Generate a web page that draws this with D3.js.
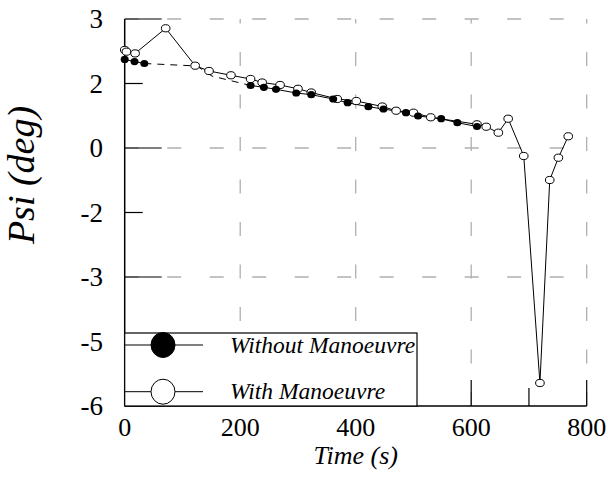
<!DOCTYPE html>
<html>
<head>
<meta charset="utf-8">
<script src="https://cdn.jsdelivr.net/npm/d3@7"></script>
<style>
  body { margin: 0; background: #fff; }
  text { font-family: "Liberation Serif", "Times New Roman", Times, serif; }
</style>
</head>
<body>
<script>
// values
const withoutTime = [0, 17, 34, 218, 241, 262, 297, 323, 361, 386, 422, 448, 487, 508, 548, 576, 610];
const withoutPsi  = [2.06, 2.01, 1.965, 1.453, 1.412, 1.365, 1.279, 1.24, 1.14, 1.053, 0.96, 0.907, 0.821, 0.744, 0.681, 0.588, 0.5];

// dashed part where the first run has no samples
const gapTime = [34, 125, 151, 218];
const gapPsi  = [1.965, 1.907, 1.674, 1.453];

const withTime = [0, 3, 18, 71, 122, 146, 184, 218, 238, 269, 300, 323, 368, 401, 446, 470, 500, 530, 610, 626, 647, 664, 691, 719, 736, 751, 768];
const withPsi  = [2.28, 2.24, 2.2, 2.784, 1.914, 1.791, 1.691, 1.605, 1.523, 1.465, 1.377, 1.291, 1.14, 1.093, 0.965, 0.867, 0.821, 0.714, 0.551, 0.495, 0.356, 0.681, -0.186, -5.465, -0.744, -0.226, 0.272];

const xMajor = [0, 200, 400, 600, 800];
const xMinor = [100, 300, 500, 700];
const yMajor = [3, 0, -3, -6];
const yTickVals = [3, 1.5, 0, -1.5, -3, -4.5, -6];
const yTickLabels = ["3", "2", "0", "-2", "-3", "-5", "-6"];
const legendNames = ["Without Manoeuvre", "With Manoeuvre"];

const W = 608, H = 490;
const x = d3.scaleLinear().domain([0, 800]).range([124.7, 586.7]);
const y = d3.scaleLinear().domain([-6, 3]).range([406, 19]);

const svg = d3.select("body").append("svg")
  .attr("width", W).attr("height", H);

const grid = "#b0b0b0";

// horizontal grid (major only), drawn left to right
svg.selectAll(".hgrid").data(yMajor.filter(v => v > -6)).enter()
  .append("line")
  .attr("x1", x(0)).attr("x2", x(800))
  .attr("y1", d => y(d)).attr("y2", d => y(d))
  .attr("stroke", grid).attr("stroke-width", 1.3)
  .attr("stroke-dasharray", "14,28.5");

// vertical grid, drawn bottom to top
svg.selectAll(".vgrid").data(xMajor.filter(v => v > 0)).enter()
  .append("line")
  .attr("x1", d => x(d)).attr("x2", d => x(d))
  .attr("y1", y(-6)).attr("y2", y(3))
  .attr("stroke", grid).attr("stroke-width", 1.3)
  .attr("stroke-dasharray", "14,28.5");

// axis lines
svg.append("line").attr("x1", x(0)).attr("x2", x(0)).attr("y1", y(-6)).attr("y2", y(3))
  .attr("stroke", "#000").attr("stroke-width", 1.5);
svg.append("line").attr("x1", x(0)).attr("x2", x(800)).attr("y1", y(-6)).attr("y2", y(-6))
  .attr("stroke", "#000").attr("stroke-width", 1.5);

// inward ticks
svg.selectAll(".ytk").data(yTickVals).enter().append("line")
  .attr("x1", x(0)).attr("x2", d => x(0) + (yMajor.includes(d) ? 37 : 18))
  .attr("y1", d => y(d)).attr("y2", d => y(d))
  .attr("stroke", "#000").attr("stroke-width", 1.2);
svg.selectAll(".xtk").data(xMajor.concat(xMinor)).enter().append("line")
  .attr("x1", d => x(d)).attr("x2", d => x(d))
  .attr("y1", y(-6)).attr("y2", d => y(-6) - (xMajor.includes(d) ? 26 : 18))
  .attr("stroke", "#000").attr("stroke-width", 1.2);

// tick labels
svg.selectAll(".xlab").data(xMajor).enter().append("text")
  .attr("x", d => x(d)).attr("y", 436)
  .attr("text-anchor", "middle").attr("font-size", 26)
  .text(d => d);
svg.selectAll(".ylab").data(yTickVals).enter().append("text")
  .attr("x", 103).attr("y", d => y(d)).attr("dy", "0.35em")
  .attr("text-anchor", "end").attr("font-size", 27)
  .text((d, i) => yTickLabels[i]);

// axis titles
svg.append("text").attr("x", x(400)).attr("y", 464)
  .attr("text-anchor", "middle").attr("font-size", 26).attr("font-style", "italic")
  .text("Time (s)");
svg.append("text").attr("transform", "translate(34," + 175 + ") rotate(-90)")
  .attr("text-anchor", "middle").attr("font-size", 38).attr("font-style", "italic")
  .text("Psi (deg)");

// series
const line = d3.line().x(d => x(d[0])).y(d => y(d[1]));
const withPts = withTime.map((t, i) => [t, withPsi[i]]);
const withoutPts = withoutTime.map((t, i) => [t, withoutPsi[i]]);
const gapPts = gapTime.map((t, i) => [t, gapPsi[i]]);

svg.append("path").datum(withPts).attr("d", line)
  .attr("fill", "none").attr("stroke", "#000").attr("stroke-width", 1);
svg.append("path").datum(withoutPts.slice(0, 3)).attr("d", line)
  .attr("fill", "none").attr("stroke", "#000").attr("stroke-width", 1);
svg.append("path").datum(withoutPts.slice(3)).attr("d", line)
  .attr("fill", "none").attr("stroke", "#000").attr("stroke-width", 1);
svg.append("path").datum(gapPts).attr("d", line)
  .attr("fill", "none").attr("stroke", "#000").attr("stroke-width", 1)
  .attr("stroke-dasharray", "7,6");

svg.selectAll(".om").data(withPts).enter().append("ellipse")
  .attr("cx", d => x(d[0])).attr("cy", d => y(d[1]))
  .attr("rx", 4.3).attr("ry", 3.6)
  .attr("fill", "#fff").attr("stroke", "#000").attr("stroke-width", 1);
svg.selectAll(".fm").data(withoutPts).enter().append("ellipse")
  .attr("cx", d => x(d[0])).attr("cy", d => y(d[1]))
  .attr("rx", 4).attr("ry", 3.6)
  .attr("fill", "#000");

// legend
const lg = svg.append("g");
lg.append("rect").attr("x", x(0)).attr("y", 333)
  .attr("width", 417 - x(0)).attr("height", y(-6) - 333)
  .attr("fill", "#fff").attr("stroke", "#000").attr("stroke-width", 1.2);
const rowsY = [345, 391.7];
legendNames.forEach((name, i) => {
  lg.append("line").attr("x1", x(0)).attr("x2", 203)
    .attr("y1", rowsY[i]).attr("y2", rowsY[i])
    .attr("stroke", "#000").attr("stroke-width", 1);
  lg.append("ellipse").attr("cx", 163).attr("cy", rowsY[i])
    .attr("rx", 12).attr("ry", 12.5)
    .attr("fill", i === 0 ? "#000" : "#fff").attr("stroke", "#000").attr("stroke-width", 1);
  lg.append("text").attr("x", 230).attr("y", rowsY[i] + 7.5)
    .attr("font-size", 23.5).attr("font-style", "italic")
    .text(name);
});
</script>
</body>
</html>
